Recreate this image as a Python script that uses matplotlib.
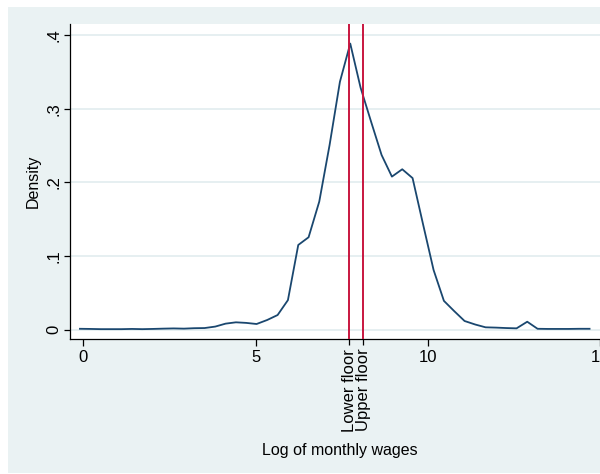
import matplotlib
matplotlib.use("Agg")
import matplotlib.pyplot as plt
from matplotlib.patches import Rectangle

# Kernel density of log monthly wages (50 evaluation points)
log_wage = [-0.10, 0.20, 0.50, 0.81, 1.11, 1.41, 1.71, 2.01, 2.32, 2.62,
            2.92, 3.22, 3.52, 3.83, 4.13, 4.43, 4.73, 5.03, 5.34, 5.64,
            5.94, 6.24, 6.54, 6.85, 7.15, 7.45, 7.75, 8.05, 8.36, 8.66,
            8.96, 9.26, 9.56, 9.87, 10.17, 10.47, 10.77, 11.07, 11.38, 11.68,
            11.98, 12.28, 12.58, 12.89, 13.19, 13.49, 13.79, 14.09, 14.40, 14.70]
density = [0.0010, 0.0008, 0.0005, 0.0005, 0.0005, 0.0008, 0.0005, 0.0008, 0.0012, 0.0015,
           0.0012, 0.0018, 0.0020, 0.0040, 0.0080, 0.0098, 0.0090, 0.0075, 0.0130, 0.0197,
           0.0400, 0.1150, 0.1255, 0.1740, 0.2510, 0.3370, 0.3890, 0.3290, 0.2820, 0.2374,
           0.2080, 0.2180, 0.2060, 0.1420, 0.0810, 0.0390, 0.0250, 0.0116, 0.0068, 0.0030,
           0.0026, 0.0020, 0.0016, 0.0106, 0.0010, 0.0008, 0.0008, 0.0008, 0.0010, 0.0010]

floor_values = [7.72, 8.13]
floor_labels = ["Lower floor", "Upper floor"]
x_ticks = [0, 5, 10, 15]
x_tick_labels = ["0", "5", "10", "15"]
y_ticks = [0, 0.1, 0.2, 0.3, 0.4]
y_tick_labels = ["0", ".1", ".2", ".3", ".4"]

plt.rcParams['font.family'] = ['Liberation Sans', 'DejaVu Sans']

W, H = 600, 474
fig = plt.figure(figsize=(W / 100, H / 100), dpi=100)
fig.patch.set_facecolor("white")
fig.patches.append(Rectangle((8 / W, 1 / H), 1 - 8 / W, 466 / H,
                             transform=fig.transFigure, facecolor="#EAF2F3",
                             edgecolor="none", zorder=-10))

ax = fig.add_axes([70 / W, 135 / H, 542.8 / W, 315 / H])
ax.set_facecolor("white")

for yt in y_ticks:
    ax.axhline(yt, color="#E6EFF1", lw=1.4, zorder=0)

ax.plot(log_wage, density, color="#1A476F", lw=1.3, zorder=3)
for fv in floor_values:
    ax.axvline(fv, color="#C8163F", lw=1.4, zorder=4)

ax.set_xlim(-0.389, 15.375)
ax.set_ylim(-0.0129, 0.4156)

for s in ["top", "right"]:
    ax.spines[s].set_visible(False)
for s in ["left", "bottom"]:
    ax.spines[s].set_color("black")
    ax.spines[s].set_linewidth(0.9)

ax.set_xticks(x_ticks, labels=x_tick_labels)
ax.set_xticks(floor_values, labels=floor_labels, minor=True)
ax.set_yticks(y_ticks, labels=y_tick_labels)
ax.tick_params(axis="x", which="major", direction="out", length=5, width=0.9,
               labelsize=12, pad=3, color="black")
ax.tick_params(axis="y", which="major", direction="out", length=4, width=0.9,
               labelsize=12, pad=2, color="black")
ax.tick_params(axis="x", which="minor", direction="out", length=4, width=0.9,
               labelsize=12, pad=3, labelrotation=90)
for lab in ax.get_xticklabels(minor=True):
    lab.set_va("top")
ax.tick_params(axis="y", which="major", labelrotation=90)
for lab in ax.get_yticklabels():
    lab.set_va("center")

ax.set_ylabel("Density", fontsize=11.5, labelpad=4)
fig.text(340 / W, 1 - 451 / H, "Log of monthly wages", fontsize=11.5,
         ha="center", va="center")

fig.savefig("out.png", dpi=100)
